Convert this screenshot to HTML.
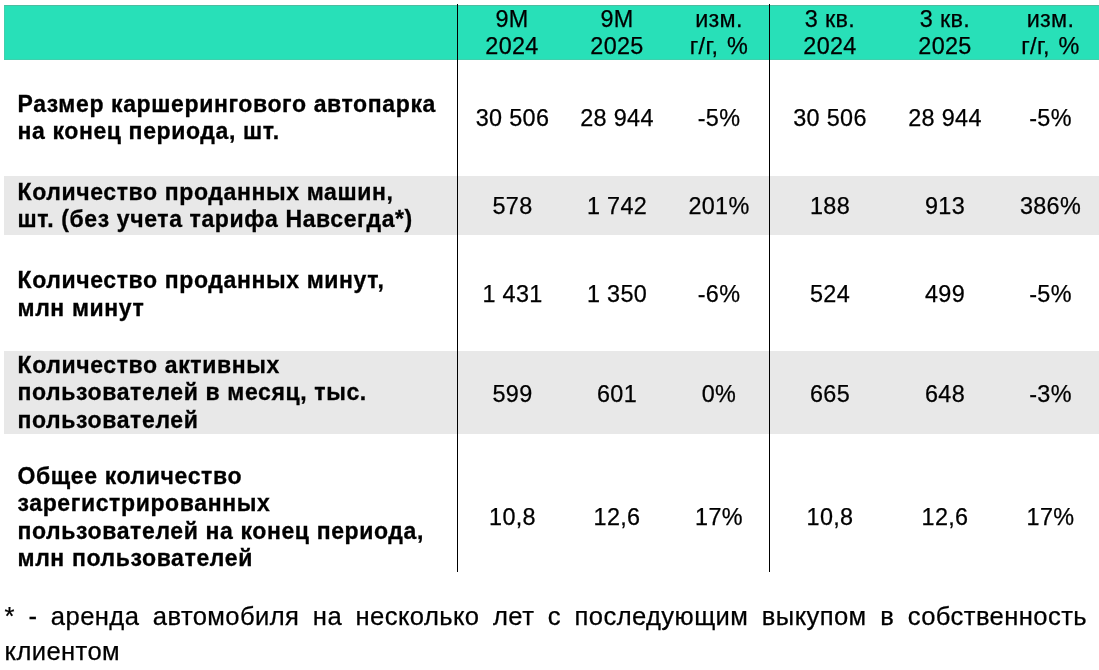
<!DOCTYPE html>
<html lang="ru">
<head>
<meta charset="utf-8">
<title>Операционные показатели</title>
<style>
html,body{margin:0;padding:0;background:#fff;}
body{width:1099px;height:670px;position:relative;overflow:hidden;font-family:"Liberation Sans",sans-serif;color:#000;-webkit-text-stroke:0.25px #000;}
.hdr{position:absolute;left:4px;top:5px;width:1095px;height:55px;background:#28e0b8;box-sizing:border-box;border:1px solid #3fd0ad;border-top-color:#4dbc9f;border-right:none;}
.gray{position:absolute;left:4px;width:1095px;background:#e8e8e8;}
.vl{position:absolute;top:4px;width:1px;height:568px;background:#000;}
.lab{position:absolute;left:17.5px;font-weight:bold;font-size:23px;letter-spacing:.62px;-webkit-text-stroke:.3px #000;line-height:27.5px;white-space:nowrap;}
.c{position:absolute;font-size:23.4px;letter-spacing:.33px;line-height:27.5px;text-align:center;white-space:nowrap;width:120px;margin-left:-60px;}
.c1{left:512.5px}.c2{left:617px}.c3{left:719px}.c4{left:830px}.c5{left:945px}.c6{left:1050.5px}
.note{position:absolute;left:4.5px;top:599px;width:1082.5px;font-size:25.6px;letter-spacing:.4px;line-height:35px;text-align:justify;}
</style>
</head>
<body>
<div class="hdr"></div>
<div class="gray" style="top:176px;height:59px"></div>
<div class="gray" style="top:351px;height:83px"></div>
<div class="vl" style="left:457px"></div>
<div class="vl" style="left:769px"></div>

<div class="c c1" style="top:5.5px;left:512px">9М<br>2024</div>
<div class="c c2" style="top:5.5px">9М<br>2025</div>
<div class="c c3" style="top:5.5px;word-spacing:2px">изм.<br>г/г, %</div>
<div class="c c4" style="top:5.5px">3 кв.<br>2024</div>
<div class="c c5" style="top:5.5px">3 кв.<br>2025</div>
<div class="c c6" style="top:5.5px;word-spacing:2px">изм.<br>г/г, %</div>

<div class="lab" style="top:90.65px">Размер каршерингового автопарка<br>на конец периода, шт.</div>
<div class="c c1" style="top:105px">30 506</div>
<div class="c c2" style="top:105px">28 944</div>
<div class="c c3" style="top:105px">-5%</div>
<div class="c c4" style="top:105px">30 506</div>
<div class="c c5" style="top:105px">28 944</div>
<div class="c c6" style="top:105px">-5%</div>

<div class="lab" style="top:178.65px">Количество проданных машин,<br>шт. (без учета тарифа Навсегда*)</div>
<div class="c c1" style="top:193px">578</div>
<div class="c c2" style="top:193px">1 742</div>
<div class="c c3" style="top:193px">201%</div>
<div class="c c4" style="top:193px">188</div>
<div class="c c5" style="top:193px">913</div>
<div class="c c6" style="top:193px">386%</div>

<div class="lab" style="top:267px">Количество проданных минут,<br>млн минут</div>
<div class="c c1" style="top:281px">1 431</div>
<div class="c c2" style="top:281px">1 350</div>
<div class="c c3" style="top:281px">-6%</div>
<div class="c c4" style="top:281px">524</div>
<div class="c c5" style="top:281px">499</div>
<div class="c c6" style="top:281px">-5%</div>

<div class="lab" style="top:351.65px">Количество активных<br>пользователей в месяц, тыс.<br>пользователей</div>
<div class="c c1" style="top:380.5px">599</div>
<div class="c c2" style="top:380.5px">601</div>
<div class="c c3" style="top:380.5px">0%</div>
<div class="c c4" style="top:380.5px">665</div>
<div class="c c5" style="top:380.5px">648</div>
<div class="c c6" style="top:380.5px">-3%</div>

<div class="lab" style="top:462.5px">Общее количество<br>зарегистрированных<br>пользователей на конец периода,<br>млн пользователей</div>
<div class="c c1" style="top:504px">10,8</div>
<div class="c c2" style="top:504px">12,6</div>
<div class="c c3" style="top:504px">17%</div>
<div class="c c4" style="top:504px">10,8</div>
<div class="c c5" style="top:504px">12,6</div>
<div class="c c6" style="top:504px">17%</div>

<div class="note">* - аренда автомобиля на несколько лет с последующим выкупом в собственность клиентом</div>
</body>
</html>
